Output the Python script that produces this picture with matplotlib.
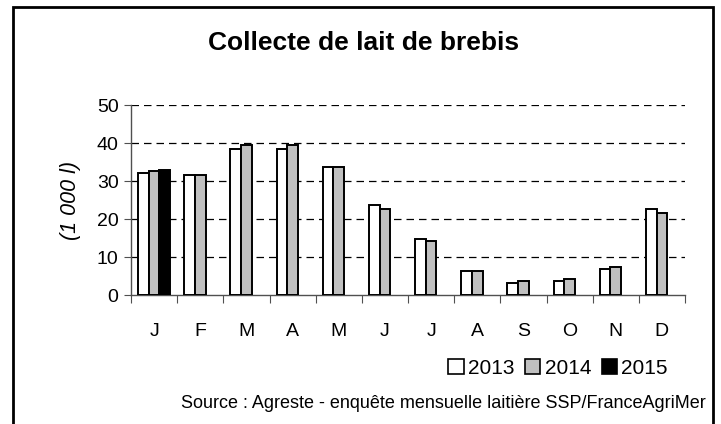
import matplotlib
matplotlib.use("Agg")
import matplotlib.pyplot as plt
import matplotlib.patches as mpatches
import numpy as np

plt.rcParams['font.family'] = ['Liberation Sans', 'DejaVu Sans']

months = ["J", "F", "M", "A", "M", "J", "J", "A", "S", "O", "N", "D"]
v2013 = [32.0, 31.6, 38.4, 38.4, 33.7, 23.7, 14.7, 6.3, 3.2, 3.6, 6.8, 22.6]
v2014 = [32.6, 31.6, 39.5, 39.5, 33.7, 22.7, 14.1, 6.3, 3.6, 4.3, 7.4, 21.6]
v2015 = [32.9, np.nan, np.nan, np.nan, np.nan, np.nan, np.nan, np.nan, np.nan, np.nan, np.nan, np.nan]
series_labels = ["2013", "2014", "2015"]
colors = ["white", "#C0C0C0", "black"]

fig = plt.figure(figsize=(7.21, 4.24), dpi=100)
W, H = 721, 424
ax = fig.add_axes([131 / W, 1 - 295 / H, (685 - 131) / W, (295 - 105) / H])

x = np.arange(len(months))
bw = 0.23
for i, (vals, col, lab) in enumerate(zip([v2013, v2014, v2015], colors, series_labels)):
    ax.bar(x + (i - 1) * bw, vals, width=bw, color=col, edgecolor="black",
           linewidth=1.4, label=lab, zorder=3)

ax.set_xlim(-0.5, len(months) - 0.5)
ax.set_ylim(0, 50)
ax.set_yticks(np.arange(0, 51, 10))
ax.tick_params(axis='y', labelsize=14, length=5, color='#505050', pad=4)
ax.set_xticks(np.arange(-0.5, len(months), 1.0))
ax.set_xticklabels([])
ax.set_xticks(x, minor=True)
ax.set_xticklabels(months, minor=True)
ax.tick_params(axis='x', which='major', length=6, color='#505050', direction='out')
ax.tick_params(axis='x', which='minor', length=0, labelsize=14, pad=20)

for s in ['top', 'right']:
    ax.spines[s].set_visible(False)
for s in ['left', 'bottom']:
    ax.spines[s].set_color('#505050')
    ax.spines[s].set_linewidth(1.0)

for yv in range(10, 51, 10):
    ax.axhline(yv, color='black', linewidth=0.9, dashes=(6, 4), zorder=1)

ax.set_ylabel("(1 000 l)", fontsize=15.5, style='italic', labelpad=11)

fig.text(364 / W, 1 - 43 / H, "Collecte de lait de brebis", ha='center', va='center',
         fontsize=19, fontweight='bold')

handles = [mpatches.Patch(facecolor=c, edgecolor='black', linewidth=1.2) for c in colors]
fig.legend(handles, series_labels, loc='center', bbox_to_anchor=(558 / W, 1 - 368 / H),
           ncol=3, frameon=False, fontsize=15, handlelength=0.75, handleheight=0.75,
           handletextpad=0.2, columnspacing=0.5, borderaxespad=0)

fig.text(706 / W, 1 - 403 / H, "Source : Agreste - enquête mensuelle laitière SSP/FranceAgriMer",
         ha='right', va='center', fontsize=13)

border = mpatches.Rectangle((13 / W, -0.1), (713 - 13) / W, 1 - 7 / H + 0.1,
                            transform=fig.transFigure, fill=False, edgecolor='black',
                            linewidth=2, clip_on=False)
fig.patches.append(border)

fig.savefig("out.png", dpi=100)
